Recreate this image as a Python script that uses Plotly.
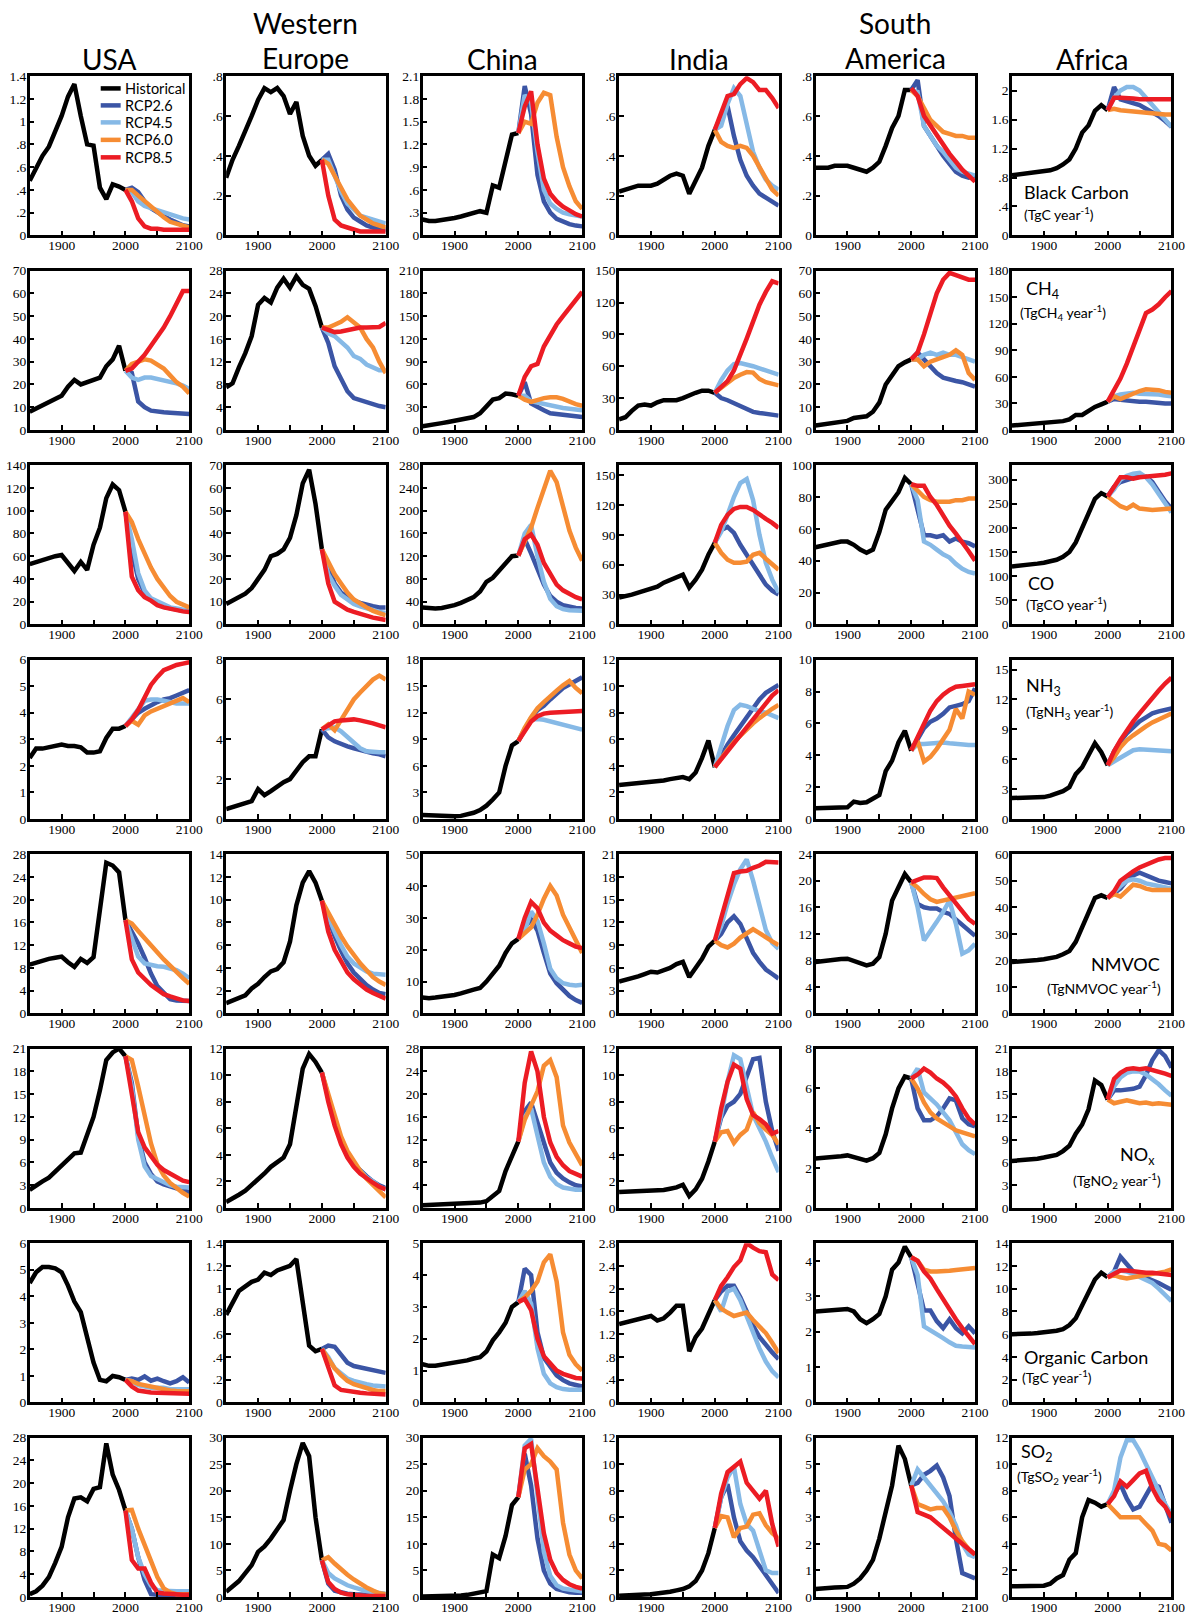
import plotly.graph_objects as go

# ---------------- data ----------------
YEARS_HIST = list(range(1850, 2001, 10))
YEARS_RCP = list(range(2000, 2101, 10))
REGIONS = [["USA"], ["Western", "Europe"], ["China"], ["India"], ["South", "America"], ["Africa"]]
SCENARIOS = ["Historical", "RCP2.6", "RCP4.5", "RCP6.0", "RCP8.5"]
COLORS = ["#000000", "#3b55a5", "#86b9e6", "#f68c33", "#ec1c24"]

# each panel: [historical, RCP2.6, RCP4.5, RCP6.0, RCP8.5]
BC_USA = [[.48, .6, .7, .78, .92, 1.05, 1.22, 1.33, 1.05, .8, .79, .42, .32, .45, .43, .40],
          [.40, .42, .38, .30, .24, .20, .17, .14, .11, .09, .08],
          [.40, .38, .30, .26, .24, .22, .20, .18, .16, .15, .14],
          [.40, .40, .35, .30, .25, .20, .16, .12, .10, .08, .07],
          [.40, .30, .15, .08, .06, .06, .05, .05, .05, .05, .05]]
BC_WEU = [[.29, .38, .45, .52, .6, .68, .74, .72, .74, .7, .61, .67, .5, .4, .35, .38],
          [.38, .41, .33, .20, .13, .09, .07, .05, .04, .03, .03],
          [.38, .38, .30, .22, .16, .13, .10, .09, .08, .07, .06],
          [.38, .36, .30, .24, .18, .14, .10, .08, .06, .05, .04],
          [.38, .20, .08, .05, .04, .03, .02, .02, .02, .02, .02]]
BC_CHN = [[.21, .19, .19, .2, .21, .23, .25, .27, .3, .32, .3, .66, .63, 1.0, 1.33, 1.35],
          [1.35, 1.97, 1.6, .8, .45, .3, .22, .18, .15, .13, .12],
          [1.35, 1.85, 1.75, 1.1, .6, .42, .35, .3, .28, .26, .25],
          [1.35, 1.5, 1.47, 1.75, 1.88, 1.85, 1.3, .9, .65, .45, .35],
          [1.35, 1.7, 1.9, 1.2, .75, .55, .45, .38, .33, .28, .25]]
BC_IND = [[.22, .23, .24, .25, .25, .25, .26, .28, .3, .31, .3, .21, .27, .34, .45, .53],
          [.53, .6, .65, .5, .38, .3, .25, .21, .19, .17, .15],
          [.53, .55, .66, .74, .7, .55, .42, .34, .28, .25, .23],
          [.53, .47, .45, .44, .45, .44, .4, .34, .28, .23, .2],
          [.53, .62, .7, .71, .76, .79, .77, .73, .73, .69, .64]]
BC_SAM = [[.34, .34, .34, .35, .35, .35, .34, .33, .32, .34, .37, .45, .54, .6, .73, .73],
          [.73, .78, .55, .5, .44, .4, .36, .32, .3, .29, .3],
          [.73, .72, .55, .5, .45, .42, .38, .34, .32, .31, .3],
          [.73, .7, .64, .58, .55, .52, .51, .5, .5, .49, .49],
          [.74, .7, .6, .55, .5, .45, .41, .37, .33, .3, .27]]
BC_AFR = [[.83, .84, .85, .86, .87, .88, .9, .93, .98, 1.05, 1.2, 1.42, 1.52, 1.72, 1.8, 1.73],
          [1.73, 2.05, 1.88, 1.85, 1.82, 1.8, 1.75, 1.7, 1.65, 1.58, 1.5],
          [1.73, 1.9, 2.0, 2.05, 2.05, 2.0, 1.9, 1.8, 1.7, 1.6, 1.5],
          [1.73, 1.75, 1.73, 1.72, 1.71, 1.7, 1.7, 1.69, 1.68, 1.67, 1.67],
          [1.73, 1.9, 1.9, 1.9, 1.89, 1.88, 1.88, 1.88, 1.88, 1.88, 1.88]]

CH4_USA = [[8, 9.5, 11, 12, 13.5, 15, 19, 22, 20, 21, 22, 23, 28, 31, 37, 26],
           [26, 25, 12.5, 10, 8.5, 8, 7.8, 7.6, 7.5, 7.3, 7],
           [26, 23, 22, 23, 23, 22.5, 22, 21, 20.5, 19.5, 18],
           [26, 29, 30, 31, 30.5, 29, 27, 24, 21, 19, 16],
           [26, 27, 30, 33, 37, 41, 45, 50, 55, 61, 61]]
CH4_WEU = [[7.5, 8.2, 11, 13.5, 16.5, 22, 23.2, 22.4, 25, 26.6, 25, 27, 25.5, 24.8, 21.8, 18],
           [18, 15.3, 11.2, 8.8, 6.8, 5.6, 5.2, 4.8, 4.5, 4.2, 4],
           [18, 17, 16.5, 15.5, 14.5, 13, 12.5, 11.5, 11, 10.5, 10.5],
           [18, 18, 18.5, 19, 19.8, 19, 18, 16, 14.5, 12, 10],
           [18, 17.5, 17.2, 17.3, 17.6, 17.8, 18, 18, 18.1, 18.1, 18.8]]
CH4_CHN = [[5, 6, 7.5, 9, 10.5, 12, 13, 15, 17, 22, 30, 40, 42, 48, 47, 45],
           [45, 63, 35, 30, 26, 22, 21, 20, 19, 18, 17],
           [45, 45, 38, 36, 34, 32, 31, 29, 28, 27, 26],
           [45, 40, 37, 40, 42, 43, 43, 41, 37, 34, 32],
           [45, 70, 84, 87, 110, 126, 139, 150, 160, 172, 182]]
CH4_IND = [[10, 12, 18, 23, 24, 23, 26, 28, 28, 28, 30, 33, 35, 37, 37, 35],
           [35, 30, 28, 25, 22, 19, 17, 16, 15, 14, 13.5],
           [35, 47, 56, 62, 63, 62, 60, 58, 56, 54, 52],
           [35, 40, 45, 49, 52, 54.5, 54, 48, 45, 43, 42],
           [35, 40, 46, 56, 70, 86, 102, 118, 130, 140, 138]]
CH4_SAM = [[2, 2.3, 2.6, 3, 3.4, 4, 5.3, 5.5, 6, 8, 12, 20, 24.3, 28, 29.7, 31],
           [31, 34, 31, 28, 25, 23, 22, 21.5, 21, 20, 19],
           [31, 31, 33, 34, 33, 34, 33, 33, 32, 31, 30],
           [31, 31, 28, 30, 31, 32, 33, 35, 33, 25, 22],
           [31, 34, 42, 51, 60, 66, 69, 68, 67, 66, 66]]
CH4_AFR = [[5, 5.5, 6, 6.5, 7, 7.5, 8, 9, 10, 12, 17, 17, 22, 26, 29, 32],
           [32, 35, 34, 33, 32, 32, 32, 31, 31, 30, 30],
           [32, 38, 40, 41, 42, 41, 41, 41, 40, 39, 38],
           [32, 38, 35, 38, 42, 44, 46, 46, 45, 43, 42],
           [32, 45, 58, 75, 95, 112, 132, 136, 142, 150, 157]]

CO_USA = [[53, 55, 57, 58.5, 60, 61, 54, 47, 55, 48, 70, 85, 111, 123, 118, 99],
          [99, 65, 40, 28, 22, 18, 15.5, 14, 13, 12, 11.5],
          [99, 75, 45, 30, 23, 20, 17, 15, 14, 13, 12],
          [99, 90, 75, 62, 50, 40, 32, 25, 20, 17, 15],
          [99, 42, 30, 24, 21, 17, 15, 13.5, 12.5, 11.5, 11]]
CO_WEU = [[9, 10.5, 12, 13.5, 16, 20, 24, 30, 31, 33, 38, 48, 62, 68, 53, 33],
          [33, 25, 18, 14, 12, 10.5, 9.5, 8.5, 8, 7.5, 7.5],
          [33, 22, 17, 13, 11, 9, 8, 7, 6, 5.5, 5],
          [33, 27, 22, 18, 14, 11, 9, 7.5, 6, 5, 4],
          [33, 18, 10, 8, 6.5, 5.5, 4.5, 3.8, 3, 2.5, 2]]
CO_CHN = [[30, 28, 28, 29, 31, 34, 38, 44, 48, 58, 75, 82, 95, 110, 120, 121],
          [121, 150, 125, 95, 70, 50, 40, 34, 31, 29, 28],
          [121, 160, 175, 120, 75, 45, 32, 27, 25, 24, 24],
          [121, 145, 170, 205, 240, 270, 250, 210, 165, 135, 112],
          [121, 150, 158, 140, 108, 88, 70, 60, 53, 48, 44]]
CO_IND = [[27, 28, 30, 32, 34, 36, 38, 42, 45, 48, 50, 37, 45, 55, 70, 82],
          [82, 95, 98, 92, 80, 70, 60, 50, 40, 34, 30],
          [82, 93, 110, 128, 142, 146, 125, 90, 62, 45, 32],
          [82, 72, 65, 62, 62, 63, 70, 72, 66, 60, 55],
          [82, 100, 110, 116, 118, 118, 115, 110, 106, 102, 97]]
CO_SAM = [[48.5, 49.5, 50.5, 51, 52, 52, 50, 47, 45, 47, 58, 72, 78, 83, 92, 88],
          [88, 72, 56, 56, 55, 56, 52, 54, 52, 51, 49],
          [88, 78, 52, 50, 47, 44, 42, 38, 35, 33, 32],
          [88, 84, 80, 78, 77, 77, 77, 78, 78, 79, 79],
          [88, 87, 87, 80, 75, 68, 62, 57, 52, 46, 40]]
CO_AFR = [[120, 121, 122, 124, 126, 128, 131, 134, 140, 150, 170, 200, 225, 260, 272, 265],
          [265, 285, 295, 300, 305, 308, 306, 295, 275, 255, 240],
          [265, 280, 300, 308, 312, 314, 305, 290, 270, 250, 232],
          [265, 255, 245, 240, 248, 240, 238, 237, 238, 238, 240],
          [265, 285, 305, 305, 302, 305, 306, 307, 308, 310, 313]]

NH3_USA = [[2.3, 2.65, 2.65, 2.7, 2.75, 2.8, 2.75, 2.75, 2.7, 2.5, 2.5, 2.55, 3.05, 3.4, 3.4, 3.5],
           [3.5, 3.75, 4.0, 4.15, 4.3, 4.4, 4.5, 4.55, 4.65, 4.75, 4.85],
           [3.5, 3.8, 4.15, 4.45, 4.5, 4.5, 4.45, 4.4, 4.35, 4.35, 4.35],
           [3.5, 3.7, 3.55, 3.9, 4.05, 4.15, 4.25, 4.35, 4.45, 4.55, 4.4],
           [3.5, 3.75, 4.1, 4.6, 5.05, 5.35, 5.6, 5.7, 5.8, 5.85, 5.9]]
NH3_WEU = [[.5, .6, .72, .82, .9, 1.5, 1.2, 1.4, 1.65, 1.85, 2.0, 2.4, 2.85, 3.15, 3.15, 4.5],
           [4.5, 4.1, 3.9, 3.75, 3.65, 3.55, 3.45, 3.35, 3.3, 3.25, 3.15],
           [4.5, 4.55, 4.6, 4.4, 4.1, 3.8, 3.55, 3.4, 3.35, 3.35, 3.35],
           [4.5, 4.75, 4.45, 5.0, 5.45, 6.0, 6.35, 6.65, 7.0, 7.2, 7.0],
           [4.5, 4.7, 4.9, 4.95, 4.98, 5.0, 4.95, 4.9, 4.8, 4.7, 4.6]]
NH3_CHN = [[.45, .4, .35, .3, .25, .3, .35, .5, .7, 1.0, 1.5, 2.2, 3.0, 6.0, 8.3, 8.8],
           [8.8, 10.2, 11.4, 12.3, 12.8, 13.5, 14.2, 14.8, 15.2, 15.6, 16.0],
           [8.8, 10.2, 11.2, 11.3, 11.2, 11.0, 10.8, 10.6, 10.4, 10.2, 10.1],
           [8.8, 10.3, 11.5, 12.5, 13.2, 13.9, 14.5, 15.1, 15.6, 14.8, 14.2],
           [8.8, 10.0, 11.0, 11.6, 11.9, 12.0, 12.05, 12.1, 12.1, 12.15, 12.2]]
NH3_IND = [[2.55, 2.6, 2.6, 2.65, 2.7, 2.75, 2.8, 2.9, 3.0, 3.1, 3.15, 3.0, 3.5, 4.6, 5.9, 3.9],
           [3.9, 4.8, 5.6, 6.3, 7.0, 7.7, 8.4, 9.0, 9.5, 9.8, 10.1],
           [3.9, 5.5, 7.0, 8.2, 8.6, 8.5, 8.3, 8.1, 8.0, 7.8, 7.6],
           [3.9, 4.6, 5.2, 5.8, 6.3, 6.8, 7.2, 7.6, 8.0, 8.3, 8.6],
           [3.9, 4.5, 5.2, 5.8, 6.4, 7.0, 7.6, 8.2, 8.8, 9.3, 9.7]]
NH3_SAM = [[.67, .67, .67, .68, .7, .73, 1.09, 1.0, 1.05, 1.3, 1.5, 3.0, 3.66, 4.8, 5.54, 4.28],
           [4.3, 5.0, 5.7, 6.1, 6.3, 6.6, 7.0, 7.1, 7.2, 7.4, 8.2],
           [4.3, 4.7, 4.7, 4.75, 4.8, 4.8, 4.75, 4.7, 4.7, 4.65, 4.65],
           [4.3, 4.9, 3.6, 3.9, 4.4, 5.0, 5.6, 6.9, 6.3, 8.0, 7.8],
           [4.3, 5.1, 6.0, 6.8, 7.4, 7.8, 8.1, 8.3, 8.35, 8.4, 8.45]]
NH3_AFR = [[2.1, 2.1, 2.1, 2.1, 2.15, 2.2, 2.35, 2.6, 2.8, 3.2, 4.5, 5.2, 6.5, 7.6, 6.7, 5.4],
           [5.4, 6.8, 7.8, 8.6, 9.2, 9.8, 10.2, 10.6, 10.8, 11.0, 11.1],
           [5.4, 5.8, 6.2, 6.6, 6.9, 7.0, 6.95, 6.9, 6.85, 6.8, 6.8],
           [5.4, 6.2, 7.2, 7.9, 8.4, 8.9, 9.3, 9.7, 10.0, 10.3, 10.6],
           [5.4, 6.8, 7.9, 8.9, 9.8, 10.6, 11.4, 12.2, 12.9, 13.6, 14.2]]

NMVOC_USA = [[8.6, 9, 9.3, 9.6, 9.8, 10.0, 9.0, 8.2, 9.6, 8.9, 9.9, 18, 26.5, 26, 24.8, 16.4],
             [16.4, 14.5, 12.3, 9.8, 7, 4.8, 3.5, 2.5, 2.3, 2.2, 2.2],
             [16.4, 13, 10, 8.8, 8.5, 8.3, 8.2, 8.0, 7.6, 7.0, 6.2],
             [16.4, 15.8, 14.5, 13.2, 12, 10.8, 9.5, 8.4, 7.2, 6.2, 5.2],
             [16.4, 9.5, 7.2, 6.0, 5.0, 4.2, 3.4, 3.0, 2.6, 2.3, 2.2]]
NMVOC_WEU = [[.9, 1.1, 1.3, 1.6, 2.2, 2.6, 3.2, 3.7, 3.9, 4.5, 6.3, 9.5, 11.5, 12.5, 11.5, 9.9],
             [9.9, 8.2, 6.8, 5.5, 4.4, 3.6, 3.0, 2.5, 2.1, 1.8, 1.7],
             [9.9, 8.5, 7.2, 6.0, 5.0, 4.4, 4.0, 3.7, 3.5, 3.4, 3.4],
             [9.9, 8.8, 7.7, 6.8, 5.9, 5.1, 4.4, 3.8, 3.2, 2.8, 2.5],
             [9.9, 7.2, 5.6, 4.5, 3.6, 3.0, 2.5, 2.1, 1.8, 1.5, 1.3]]
NMVOC_CHN = [[5, 4.8, 5, 5.2, 5.5, 5.8, 6.3, 7, 7.5, 8, 10, 12.5, 15, 19, 22, 23.4],
             [23.4, 27, 29.5, 26, 19, 12.5, 9.5, 7.5, 5.5, 4.2, 3.3],
             [23.4, 26, 32, 29, 22, 14, 11, 9.5, 9.0, 8.8, 9.0],
             [23.4, 25, 27, 31, 36, 40, 37, 31, 27, 23, 19],
             [23.4, 30, 35, 33, 28.5, 26, 24.5, 23, 22, 21, 20.5]]
NMVOC_IND = [[4.2, 4.4, 4.7, 4.9, 5.2, 5.5, 5.4, 5.7, 6.0, 6.5, 6.8, 4.8, 6.0, 7.2, 8.8, 9.6],
             [9.6, 10.5, 12.0, 12.8, 11.8, 9.8, 8.0, 6.8, 5.8, 5.2, 4.6],
             [9.6, 11.5, 14.5, 17, 19, 20.3, 17.5, 14, 11, 9.3, 8.5],
             [9.6, 9.0, 8.7, 9.2, 10.0, 10.6, 11.1, 10.6, 10.0, 9.5, 9.0],
             [9.6, 12.5, 15.5, 18.5, 18.7, 18.8, 19.2, 19.5, 20.0, 20.0, 19.9]]
NMVOC_SAM = [[7.75, 7.9, 8.0, 8.1, 8.2, 8.25, 7.9, 7.5, 7.25, 7.5, 8.5, 12, 17, 19, 21, 19.75],
             [19.75, 16.5, 16.0, 15.8, 15.8, 15.3, 15, 14.2, 13.2, 12.5, 11.7],
             [19.75, 16, 11, 12.3, 13.8, 15.3, 17.0, 13.5, 9.0, 9.5, 10.5],
             [19.75, 19, 18, 17.2, 16.8, 17, 17.2, 17.4, 17.6, 17.8, 18.1],
             [19.75, 20.2, 20.5, 20.5, 20.4, 19, 17.8, 16.5, 15.2, 14.2, 13.5]]
NMVOC_AFR = [[19.4, 19.5, 19.7, 19.9, 20.1, 20.4, 20.8, 21.3, 22.3, 23.5, 27, 33, 38, 43.5, 44.5, 43.5],
             [43.5, 45, 47, 50, 52, 53, 52, 51, 50, 49.5, 49],
             [43.5, 46, 48, 50, 50.5, 50, 49, 48.5, 48, 47.5, 47],
             [43.5, 45, 44, 46, 48.5, 48, 47, 46.5, 46.5, 46.5, 46.5],
             [43.5, 46, 50, 52, 53.5, 55, 56, 57, 58, 58.5, 58.5]]

NOX_USA = [[2.4, 3.0, 3.5, 4.0, 4.8, 5.7, 6.5, 7.2, 7.3, 9.5, 12, 15.5, 19.5, 20.5, 21, 20],
           [20, 16.5, 9.5, 6.0, 4.5, 3.5, 3.1, 2.9, 2.6, 2.3, 2.1],
           [20, 16, 9.0, 5.5, 4.2, 3.8, 3.3, 3.0, 2.8, 2.7, 2.7],
           [20, 19.5, 16, 12, 8.5, 5.8, 4.3, 3.3, 2.6, 2.0, 1.5],
           [20, 15, 10, 8, 6.8, 5.7, 5.0, 4.5, 4.0, 3.6, 3.4]]
NOX_WEU = [[.45, .7, 1.0, 1.3, 1.7, 2.2, 2.6, 3.1, 3.5, 3.8, 4.8, 7.5, 10.5, 11.6, 11.0, 10.2],
           [10.2, 8.2, 6.5, 5.0, 4.0, 3.3, 2.8, 2.4, 2.0, 1.7, 1.5],
           [10.2, 8.2, 6.5, 5.0, 4.0, 3.3, 2.8, 2.3, 2.0, 1.6, 1.4],
           [10.2, 8.5, 6.8, 5.4, 4.3, 3.5, 2.8, 2.2, 1.7, 1.2, .8],
           [10.2, 8.0, 6.2, 4.8, 3.8, 3.1, 2.6, 2.2, 1.9, 1.6, 1.4]]
NOX_CHN = [[.5, .55, .6, .65, .7, .75, .8, .85, .9, .95, 1.2, 2.0, 3.0, 6.5, 9.0, 11.7],
           [11.7, 17, 18.5, 15, 11, 8, 6.2, 5.2, 4.5, 4.0, 3.8],
           [11.7, 16, 17.5, 13, 8, 5.5, 4.2, 3.6, 3.3, 3.2, 3.2],
           [11.7, 15.5, 18, 20.5, 25, 26, 23, 14.5, 11.5, 9.5, 7.5],
           [11.7, 22, 27.5, 24, 16, 11.5, 9, 7.5, 6.5, 6.0, 5.5]]
NOX_IND = [[1.2, 1.22, 1.25, 1.28, 1.3, 1.35, 1.3, 1.35, 1.45, 1.55, 1.75, .9, 1.4, 2.2, 3.5, 5.0],
           [5.0, 6.8, 7.7, 8.0, 8.6, 9.8, 11.2, 11.3, 8.0, 5.8, 4.3],
           [5.0, 7.0, 9.5, 11.5, 11.2, 9.0, 7.0, 6.0, 5.0, 3.8, 2.7],
           [5.0, 5.7, 5.8, 4.9, 5.5, 5.9, 7.2, 6.4, 5.9, 5.5, 4.8],
           [5.0, 7.5, 9.5, 10.8, 10.5, 8.2, 7.0, 6.7, 6.3, 5.6, 5.8]]
NOX_SAM = [[2.48, 2.5, 2.52, 2.56, 2.6, 2.64, 2.57, 2.45, 2.38, 2.5, 2.76, 3.7, 5.0, 6.0, 6.6, 6.5],
           [6.5, 5.0, 4.4, 4.4, 4.6, 5.0, 5.5, 5.4, 4.5, 4.2, 4.1],
           [6.5, 7.0, 5.8, 5.5, 5.2, 4.8, 4.4, 3.8, 3.2, 2.9, 2.7],
           [6.5, 6.0, 5.3, 4.8, 4.5, 4.3, 4.1, 3.9, 3.8, 3.7, 3.6],
           [6.5, 6.7, 7.0, 6.8, 6.5, 6.3, 6.0, 5.6, 5.0, 4.5, 4.2]]
NOX_AFR = [[6.2, 6.25, 6.3, 6.4, 6.5, 6.65, 6.8, 7.0, 7.5, 8.2, 9.8, 11.0, 13.0, 16.8, 16.2, 14.3],
           [14.3, 15.5, 15.5, 15.6, 15.7, 16.0, 17.5, 19.5, 20.8, 20.0, 18.5],
           [14.3, 16, 17.2, 17.8, 18, 18, 17.6, 17, 16.3, 15.5, 14.8],
           [14.3, 13.8, 14, 14.2, 14, 13.8, 13.9, 13.7, 13.8, 13.7, 13.6],
           [14.3, 17, 17.8, 18.3, 18.4, 18.3, 18.4, 18.2, 18.0, 17.7, 17.4]]

OC_USA = [[4.5, 4.9, 5.1, 5.1, 5.05, 4.9, 4.4, 3.8, 3.4, 2.5, 1.5, .85, .8, 1.0, .95, .85],
          [.85, .9, .85, .98, .82, .9, .8, .72, .8, .95, .75],
          [.85, .8, .65, .6, .55, .55, .55, .5, .5, .5, .5],
          [.85, .8, .7, .65, .58, .52, .48, .45, .43, .42, .42],
          [.85, .6, .45, .4, .38, .37, .36, .35, .35, .35, .33]]
OC_WEU = [[.77, .87, .98, 1.02, 1.06, 1.08, 1.14, 1.12, 1.16, 1.18, 1.2, 1.26, .9, .5, .45, .47],
          [.47, .5, .49, .42, .35, .32, .31, .3, .29, .28, .26],
          [.47, .4, .3, .25, .21, .19, .17, .16, .15, .14, .14],
          [.47, .38, .3, .24, .19, .16, .14, .12, .11, .1, .1],
          [.47, .3, .15, .11, .1, .09, .085, .08, .075, .07, .07]]
OC_CHN = [[1.2, 1.15, 1.15, 1.18, 1.2, 1.25, 1.28, 1.32, 1.38, 1.42, 1.6, 1.95, 2.2, 2.5, 3.0, 3.15],
          [3.15, 4.2, 4.0, 2.2, 1.4, 1.1, .85, .7, .6, .55, .5],
          [3.15, 3.5, 3.1, 1.7, .9, .6, .48, .42, .4, .4, .4],
          [3.15, 3.3, 3.5, 3.8, 4.4, 4.65, 3.8, 2.2, 1.5, 1.2, 1.0],
          [3.15, 3.25, 2.9, 2.0, 1.45, 1.2, 1.0, .9, .82, .77, .75]]
OC_IND = [[1.38, 1.41, 1.44, 1.48, 1.5, 1.52, 1.44, 1.48, 1.58, 1.7, 1.7, .9, 1.15, 1.3, 1.55, 1.8],
          [1.8, 1.95, 2.05, 2.05, 1.85, 1.6, 1.35, 1.15, 1.0, .88, .76],
          [1.8, 1.6, 1.95, 2.0, 1.8, 1.5, 1.2, .95, .72, .55, .44],
          [1.8, 1.65, 1.58, 1.52, 1.55, 1.58, 1.45, 1.33, 1.22, 1.05, .87],
          [1.8, 2.05, 2.2, 2.38, 2.5, 2.8, 2.72, 2.66, 2.64, 2.25, 2.15]]
OC_SAM = [[2.57, 2.58, 2.6, 2.62, 2.63, 2.64, 2.57, 2.35, 2.24, 2.35, 2.5, 3.0, 3.75, 3.95, 4.4, 4.1],
          [4.1, 3.3, 2.6, 2.6, 2.3, 2.1, 2.35, 2.1, 1.95, 2.15, 1.95],
          [4.1, 3.6, 2.15, 2.05, 1.95, 1.82, 1.7, 1.6, 1.58, 1.55, 1.55],
          [4.1, 4.0, 3.75, 3.7, 3.7, 3.7, 3.72, 3.74, 3.76, 3.78, 3.8],
          [4.1, 4.0, 3.7, 3.5, 3.2, 2.9, 2.6, 2.35, 2.1, 1.85, 1.65]]
OC_AFR = [[6.0, 6.0, 6.02, 6.05, 6.1, 6.15, 6.2, 6.3, 6.45, 6.8, 7.4, 8.5, 9.6, 10.8, 11.4, 11.0],
          [11, 11.5, 12.8, 12.2, 11.5, 11.2, 11.0, 10.8, 10.5, 10.2, 9.9],
          [11, 11.5, 11.6, 11.5, 11.3, 11.0, 10.8, 10.5, 10.0, 9.5, 8.9],
          [11, 11.2, 11, 10.9, 11, 11.1, 11.2, 11.3, 11.4, 11.5, 11.7],
          [11, 11.3, 11.6, 11.6, 11.5, 11.5, 11.4, 11.4, 11.3, 11.3, 11.2]]

SO2_USA = [[.5, 1.0, 2.0, 3.5, 6.0, 8.8, 14, 17.3, 17.5, 16.8, 19, 19.3, 27, 21.5, 18.8, 15.2],
           [15.2, 12, 7, 3, .5, .3, .3, .3, .3, .3, .3],
           [15.2, 12, 7, 4, 2, 1.2, 1.1, 1.0, 1.0, 1.0, 1.0],
           [15.2, 15.3, 12, 9, 6, 3.5, 1.5, .8, .5, .5, .5],
           [15.2, 6.5, 5.0, 5.0, 2.5, .8, .6, .5, .5, .4, .4]]
SO2_WEU = [[1.0, 2.0, 3.0, 4.5, 6.0, 8.5, 9.5, 11, 12.8, 14.5, 20, 25, 29, 26.5, 15, 6.9],
           [6.9, 2.5, 1.2, .8, .6, .5, .4, .4, .3, .3, .3],
           [6.9, 4.5, 3.5, 2.8, 2.2, 1.8, 1.4, 1.1, .9, .7, .6],
           [6.9, 7.5, 6.3, 5.2, 4.2, 3.3, 2.5, 1.8, 1.2, .7, .5],
           [6.9, 2.8, 1.5, .8, .5, .3, .3, .2, .2, .2, .2]]
SO2_CHN = [[.1, .1, .1, .15, .2, .25, .3, .4, .6, .9, 1.1, 8.0, 7.3, 11.5, 17.3, 18.8],
           [18.8, 27, 21, 11, 5, 2.5, 1.5, 1.1, .9, .8, .8],
           [18.8, 28.5, 29.8, 19, 8.5, 4, 2.2, 1.6, 1.3, 1.2, 1.1],
           [18.8, 24, 25, 28, 26.5, 25.5, 24, 14, 8, 5, 3.5],
           [18.8, 28, 28.8, 21, 12, 7, 4.5, 3.2, 2.4, 1.9, 1.6]]
SO2_IND = [[.1, .1, .12, .15, .18, .2, .25, .3, .4, .5, .6, .8, 1.2, 2.0, 3.3, 5.2],
           [5.2, 7.5, 8.5, 6.0, 4.2, 3.5, 3.0, 2.3, 1.6, .9, .3],
           [5.2, 7.5, 9.0, 9.8, 7.0, 5.5, 5.0, 3.5, 2.0, 1.8, 1.8],
           [5.2, 6.1, 6.0, 4.5, 5.2, 5.3, 6.2, 6.3, 5.4, 4.8, 4.4],
           [5.2, 7.8, 9.4, 9.8, 10.2, 8.6, 8.0, 7.4, 8.0, 5.5, 3.8]]
SO2_SAM = [[.3, .33, .35, .36, .37, .38, .5, .7, 1.0, 1.4, 2.2, 3.2, 4.2, 5.7, 5.2, 4.2],
           [4.2, 4.3, 4.6, 4.75, 4.95, 4.5, 3.8, 2.2, .9, .8, .7],
           [4.2, 4.8, 4.5, 4.2, 3.9, 3.6, 3.2, 2.7, 2.0, 1.6, 1.5],
           [4.2, 3.5, 3.4, 3.3, 3.35, 3.35, 3.0, 2.5, 2.1, 1.8, 1.6],
           [4.2, 3.2, 3.1, 3.0, 2.8, 2.6, 2.4, 2.2, 2.0, 1.8, 1.6]]
SO2_AFR = [[.8, .8, .8, .8, .82, .85, 1.0, 1.4, 1.65, 2.8, 3.3, 6.0, 7.3, 7.1, 6.8, 7.0],
           [7.0, 7.8, 8.5, 7.4, 6.6, 6.8, 7.6, 8.5, 8.3, 7.0, 5.6],
           [7.0, 8.0, 10.5, 11.8, 11.8, 11.0, 10.0, 9.0, 8.0, 7.0, 6.2],
           [7.0, 6.5, 6.0, 6.0, 6.0, 6.0, 5.5, 5.0, 4.0, 3.9, 3.5],
           [7.0, 7.6, 8.7, 8.3, 8.8, 9.3, 9.5, 8.2, 7.3, 6.8, 6.0]]

# y-axis (max, tick step) per region for each species row
BC_YAX = [(1.4, .2), (.8, .2), (2.1, .3), (.8, .2), (.8, .2), (2.2, .4)]
CH4_YAX = [(70, 10), (28, 4), (210, 30), (150, 30), (70, 10), (180, 30)]
CO_YAX = [(140, 20), (70, 10), (280, 40), (160, 30), (100, 20), (330, 50)]
NH3_YAX = [(6, 1), (8, 2), (18, 3), (12, 2), (10, 2), (16, 3)]
NMVOC_YAX = [(28, 4), (14, 2), (50, 10), (21, 3), (24, 4), (60, 10)]
NOX_YAX = [(21, 3), (12, 2), (28, 4), (12, 2), (8, 2), (21, 3)]
OC_YAX = [(6, 1), (1.4, .2), (5, 1), (2.8, .4), (4.5, 1), (14, 2)]
SO2_YAX = [(28, 4), (30, 5), (30, 5), (12, 2), (6, 1), (12, 2)]

ROWS = [
    [BC_USA, BC_WEU, BC_CHN, BC_IND, BC_SAM, BC_AFR],
    [CH4_USA, CH4_WEU, CH4_CHN, CH4_IND, CH4_SAM, CH4_AFR],
    [CO_USA, CO_WEU, CO_CHN, CO_IND, CO_SAM, CO_AFR],
    [NH3_USA, NH3_WEU, NH3_CHN, NH3_IND, NH3_SAM, NH3_AFR],
    [NMVOC_USA, NMVOC_WEU, NMVOC_CHN, NMVOC_IND, NMVOC_SAM, NMVOC_AFR],
    [NOX_USA, NOX_WEU, NOX_CHN, NOX_IND, NOX_SAM, NOX_AFR],
    [OC_USA, OC_WEU, OC_CHN, OC_IND, OC_SAM, OC_AFR],
    [SO2_USA, SO2_WEU, SO2_CHN, SO2_IND, SO2_SAM, SO2_AFR],
]
YAXES = [BC_YAX, CH4_YAX, CO_YAX, NH3_YAX, NMVOC_YAX, NOX_YAX, OC_YAX, SO2_YAX]

# species labels (name, unit, anchor side) shown in the Africa column
SPECIES_LABELS = [
    ("Black Carbon", "(TgC year<sup>-1</sup>)", "left"),
    ("CH<sub>4</sub>", "(TgCH<sub>4</sub> year<sup>-1</sup>)", "left"),
    ("CO", "(TgCO year<sup>-1</sup>)", "left"),
    ("NH<sub>3</sub>", "(TgNH<sub>3</sub> year<sup>-1</sup>)", "left"),
    ("NMVOC", "(TgNMVOC year<sup>-1</sup>)", "right"),
    ("NO<sub>x</sub>", "(TgNO<sub>2</sub> year<sup>-1</sup>)", "right"),
    ("Organic Carbon", "(TgC year<sup>-1</sup>)", "left"),
    ("SO<sub>2</sub>", "(TgSO<sub>2</sub> year<sup>-1</sup>)", "left"),
]

# ---------------- layout geometry (target pixel positions) ----------------
W, H = 1188, 1615
# measured page-to-screenshot mapping compensation
SX, OX = 0.991, 0.0
SY, OY = 0.988, 6.0
LEFT0, COL_STEP, PW = 29.8, 197.0, 160.0
TOP0, ROW_STEP, PH = 75.2, 194.7, 159.5
SERIF = "Liberation Serif, Times New Roman, serif"
SANS = "Lato, Noto Sans, sans-serif"
LW = 4.5


def fmt(v):
    v = round(v, 4)
    if abs(v - round(v)) < 1e-9:
        return str(int(round(v)))
    s = f"{v:g}"
    if s.startswith("0."):
        s = s[1:]
    return s


def px_x(px):
    return ((px - OX) / SX) / W


def px_y(py):
    return 1 - ((py - OY) / SY) / H


fig = go.Figure()
layout_axes = {}

for r in range(8):
    for c in range(6):
        k = r * 6 + c + 1
        xname = "x" if k == 1 else f"x{k}"
        yname = "y" if k == 1 else f"y{k}"
        panel = ROWS[r][c]
        for i, series in enumerate(panel):
            xs = YEARS_HIST if i == 0 else YEARS_RCP
            fig.add_trace(go.Scatter(
                x=xs, y=series, mode="lines", name=SCENARIOS[i],
                line=dict(color=COLORS[i], width=LW),
                xaxis=xname, yaxis=yname,
                showlegend=False, hoverinfo="skip"))
        left = LEFT0 + c * COL_STEP
        top = TOP0 + r * ROW_STEP
        ymax, step = YAXES[r][c]
        n = int(round(ymax / step + 1e-6))
        tv = [round(i * step, 4) for i in range(n + 1) if i * step <= ymax + 1e-9]
        common = dict(showline=True, mirror=True, linecolor="black", linewidth=2.5,
                      showgrid=False, zeroline=False, ticks="inside", ticklen=5,
                      tickwidth=2, tickcolor="black",
                      tickfont=dict(family=SERIF, size=13.5, color="black"))
        layout_axes["xaxis" if k == 1 else f"xaxis{k}"] = dict(
            domain=[px_x(left), px_x(left + PW)], anchor=yname, range=[1850, 2100],
            tickvals=[1900, 2000, 2100], ticklabelstandoff=-4,
            minor=dict(tickvals=[1950, 2050], ticks="inside", ticklen=5,
                       tickwidth=2, tickcolor="black", showgrid=False),
            **common)
        layout_axes["yaxis" if k == 1 else f"yaxis{k}"] = dict(
            domain=[px_y(top + PH), px_y(top)], anchor=xname, range=[0, ymax],
            tickvals=tv, ticktext=[fmt(v) for v in tv], ticklabelstandoff=-2, **common)

annotations = []
shapes = []
# column titles
for c, lines in enumerate(REGIONS):
    cx = px_x(LEFT0 + c * COL_STEP + PW / 2)
    ys = [58] if len(lines) == 1 else [22, 57]
    for txt, yy in zip(lines, ys):
        annotations.append(dict(x=cx, y=px_y(yy), xref="paper", yref="paper", text=txt,
                                showarrow=False, xanchor="center", yanchor="middle",
                                font=dict(family=SANS, size=28, color="black")))

# legend in the first panel (key samples + labels)
LEG_X0, LEG_X1, LEG_TX = 101, 121, 123
LEG_Y = [87.5, 104.5, 121.5, 139, 156.5]
for i, name in enumerate(SCENARIOS):
    shapes.append(dict(type="line", xref="paper", yref="paper",
                       x0=px_x(LEG_X0), x1=px_x(LEG_X1), y0=px_y(LEG_Y[i]), y1=px_y(LEG_Y[i]),
                       line=dict(color=COLORS[i], width=4.5)))
    annotations.append(dict(x=px_x(LEG_TX), y=px_y(LEG_Y[i]), xref="paper", yref="paper",
                            text=name, showarrow=False, xanchor="left", yanchor="middle",
                            font=dict(family=SANS, size=14.5, color="black")))

# species labels
LABEL_POS = [  # (name_x, name_y, unit_x, unit_y) in pixels
    (1025, 191, 1025, 213),
    (1027, 289, 1021, 312),
    (1029, 583, 1027, 603),
    (1027, 686, 1027, 711),
    (1165, 964, 1166, 987),
    (1160, 1156, 1166, 1181),
    (1025, 1357, 1023, 1377),
    (1022, 1453, 1018, 1477),
]
for (name, unit, side), (nx, ny, ux, uy) in zip(SPECIES_LABELS, LABEL_POS):
    annotations.append(dict(x=px_x(nx), y=px_y(ny), xref="paper", yref="paper", text=name,
                            showarrow=False, xanchor=side, yanchor="middle",
                            font=dict(family=SANS, size=18, color="black")))
    annotations.append(dict(x=px_x(ux), y=px_y(uy), xref="paper", yref="paper", text=unit,
                            showarrow=False, xanchor=side, yanchor="middle",
                            font=dict(family=SANS, size=14, color="black")))

fig.update_layout(
    width=W, height=H, margin=dict(l=0, r=0, t=0, b=0),
    paper_bgcolor="white", plot_bgcolor="white",
    showlegend=False,
    annotations=annotations, shapes=shapes,
    **layout_axes)

fig.write_html("out.html", config={"displayModeBar": False},
               post_script="document.body.style.margin='0px';"
                           "document.documentElement.style.overflow='hidden';")
